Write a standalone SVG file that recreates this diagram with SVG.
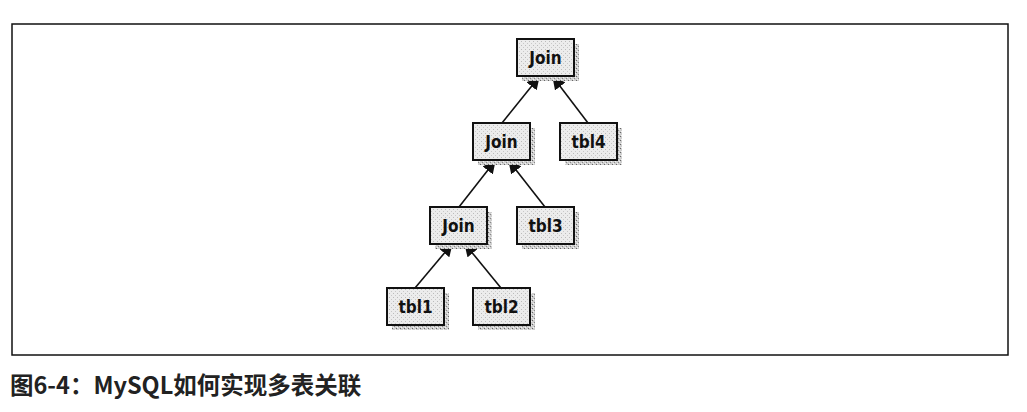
<svg xmlns="http://www.w3.org/2000/svg" width="1027" height="412" viewBox="0 0 1027 412">
<defs>
<pattern id="dots" width="4" height="4" patternUnits="userSpaceOnUse">
<rect width="4" height="4" fill="#cfcfcf"/>
<rect x="0" y="0" width="1" height="1" fill="#666"/>
<rect x="2" y="2" width="1" height="1" fill="#888"/>
<rect x="3" y="1" width="1" height="1" fill="#f4f4f4"/>
<rect x="1" y="3" width="1" height="1" fill="#f4f4f4"/>
</pattern>
<pattern id="fill" width="4" height="4" patternUnits="userSpaceOnUse">
<rect width="4" height="4" fill="#ececec"/>
<rect x="1" y="1" width="1" height="1" fill="#bbb"/>
<rect x="3" y="3" width="1" height="1" fill="#c8c8c8"/>
</pattern>
<marker id="arr" viewBox="0 0 12 12" refX="11" refY="6" markerWidth="13" markerHeight="13" orient="auto" markerUnits="userSpaceOnUse">
<path d="M0,0 L12,6 L0,12 Z" fill="#111"/>
</marker>
</defs>
<style>
.sh{fill:url(#dots)}
.bx{fill:url(#fill);stroke:#111;stroke-width:2}
.t{font-family:"DejaVu Sans Condensed","DejaVu Sans",sans-serif;font-weight:bold;font-stretch:condensed;font-size:17px;fill:#111;text-anchor:middle}
.ln{stroke:#111;stroke-width:1.6;fill:none;marker-end:url(#arr)}
</style>
<rect x="12" y="24" width="996" height="331" fill="#fff" stroke="#111" stroke-width="1.5"/>
<g id="connectors">
<line class="ln" x1="502" y1="123" x2="539" y2="77"/>
<line class="ln" x1="588" y1="123" x2="553" y2="77"/>
<line class="ln" x1="459" y1="207" x2="495" y2="161"/>
<line class="ln" x1="545" y1="207" x2="509" y2="161"/>
<line class="ln" x1="415" y1="288" x2="452" y2="244"/>
<line class="ln" x1="501" y1="288" x2="465" y2="244"/>
</g>
<g id="join1">
<rect class="sh" x="522" y="44" width="57" height="37"/>
<rect class="bx" x="517" y="39" width="57" height="37"/>
<text class="t" x="545.5" y="64">Join</text>
</g>
<g id="join2">
<rect class="sh" x="478" y="128" width="57" height="37"/>
<rect class="bx" x="473" y="123" width="57" height="37"/>
<text class="t" x="501.5" y="148">Join</text>
</g>
<g id="tbl4">
<rect class="sh" x="565" y="128" width="57" height="37"/>
<rect class="bx" x="560" y="123" width="57" height="37"/>
<text class="t" x="588.5" y="148">tbl4</text>
</g>
<g id="join3">
<rect class="sh" x="435" y="212" width="57" height="37"/>
<rect class="bx" x="430" y="207" width="57" height="37"/>
<text class="t" x="458.5" y="232">Join</text>
</g>
<g id="tbl3">
<rect class="sh" x="522" y="212" width="57" height="37"/>
<rect class="bx" x="517" y="207" width="57" height="37"/>
<text class="t" x="545.5" y="232">tbl3</text>
</g>
<g id="tbl1">
<rect class="sh" x="392" y="293" width="57" height="37"/>
<rect class="bx" x="387" y="288" width="57" height="37"/>
<text class="t" x="415.5" y="313">tbl1</text>
</g>
<g id="tbl2">
<rect class="sh" x="478" y="293" width="57" height="37"/>
<rect class="bx" x="473" y="288" width="57" height="37"/>
<text class="t" x="501.5" y="313">tbl2</text>
</g>
<text x="10" y="394" font-family="'Noto Sans CJK SC',sans-serif" font-size="23.5" font-weight="600" fill="#222">图6-4：MySQL如何实现多表关联</text>
</svg>
